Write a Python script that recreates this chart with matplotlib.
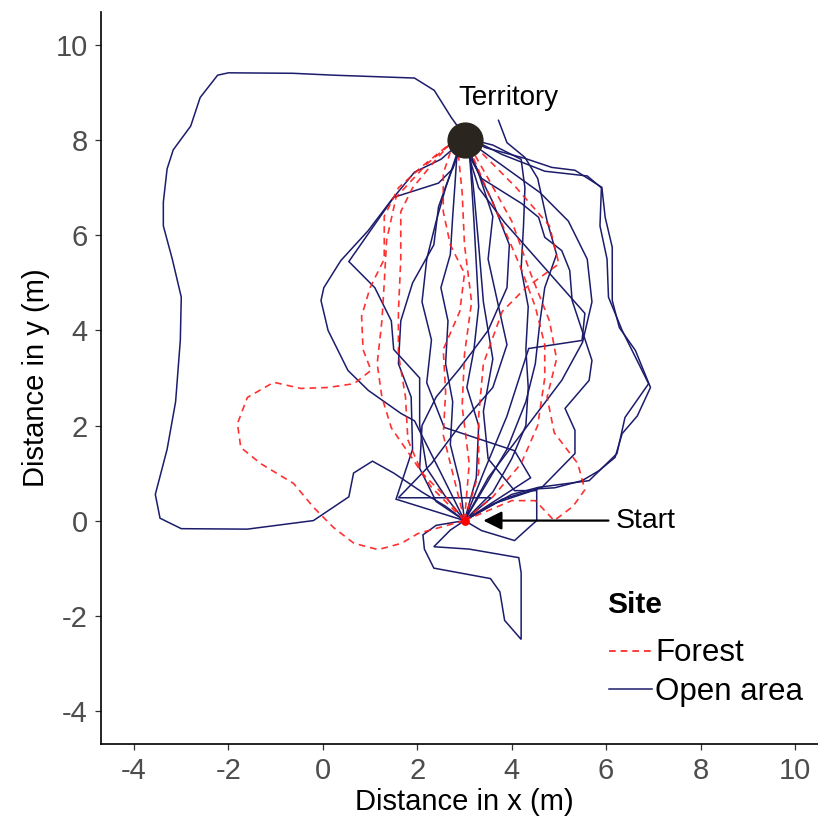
import matplotlib
matplotlib.use("Agg")
import matplotlib.pyplot as plt
from matplotlib.lines import Line2D

plt.rcParams['font.family'] = ['Liberation Sans', 'DejaVu Sans']

# ---------------- data: trajectories (metres) ----------------
# Open area tracks
open1_x = [3.0, 2.6, 2.1, 1.5, 1.05, 0.65, 0.55, -0.2, -1.6, -3.0, -3.45, -3.55, -3.3, -3.12, -3.02, -3.0, -3.19, -3.38, -3.38, -3.3, -3.17, -2.8, -2.6, -2.23, -2.0, -0.64, 0.23, 1.94, 2.36, 2.72, 2.85]
open1_y = [0.0, 0.3, 0.6, 1.0, 1.25, 1.0, 0.5, 0.0, -0.18, -0.17, 0.05, 0.55, 1.5, 2.5, 3.8, 4.7, 5.5, 6.2, 6.7, 7.4, 7.8, 8.3, 8.9, 9.37, 9.42, 9.41, 9.37, 9.31, 9.05, 8.48, 8.3]
open2_x = [3.0, 3.6, 4.57, 4.91, 5.49, 5.85, 6.19, 6.34, 6.66, 6.94, 6.62, 6.28, 6.13, 6.13, 5.98, 5.91, 5.34, 4.85, 4.28, 3.43, 3.2]
open2_y = [0.0, 0.35, 0.67, 0.69, 0.84, 1.05, 1.33, 1.83, 2.2, 2.8, 3.58, 4.06, 4.63, 5.75, 6.38, 7.01, 7.37, 7.43, 7.62, 7.85, 8.0]
open3_x = [3.0, 4.0, 4.57, 5.64, 6.23, 6.4, 6.9, 6.34, 6.05, 6.02, 5.87, 5.9, 5.6, 4.7, 3.8, 3.2]
open3_y = [0.0, 0.55, 0.7, 0.84, 1.41, 2.17, 2.88, 4.0, 4.7, 5.5, 6.2, 7.0, 7.25, 7.35, 7.7, 8.0]
open4_x = [3.0, 2.4, 2.12, 2.15, 2.35, 3.55, 3.75, 3.85, 4.2, 4.2, 4.15, 3.1, 2.35, 2.7, 3.0]
open4_y = [0.0, -0.1, -0.3, -0.6, -1.0, -1.22, -1.5, -2.1, -2.5, -1.1, -0.78, -0.6, -0.55, -0.2, 0.0]
open5_x = [3.0, 2.5, 1.94, 1.66, 0.96, 0.53, 0.11, -0.04, 0.02, 0.38, 0.96, 1.45, 1.94, 2.5, 2.85]
open5_y = [0.0, 1.0, 2.1, 2.25, 2.74, 3.16, 4.0, 4.63, 4.9, 5.47, 6.1, 6.74, 7.33, 7.6, 7.9]
open6_x = [3.0, 2.6, 2.2, 2.05, 2.05, 1.5, 1.45, 1.1, 0.55, 1.5, 2.45, 2.75, 2.9]
open6_y = [0.0, 0.5, 1.1, 2.0, 3.0, 3.6, 4.2, 4.9, 5.45, 6.8, 7.1, 7.4, 7.8]
open7_x = [3.0, 2.9, 2.7, 2.75, 2.6, 2.65, 2.5, 2.7, 2.75, 2.8, 2.85]
open7_y = [0.0, 0.8, 1.6, 2.5, 3.3, 4.2, 4.9, 5.6, 6.4, 7.1, 7.85]
open8_x = [3.0, 3.25, 3.3, 3.05, 3.2, 3.3, 3.25, 3.2, 3.15, 3.1]
open8_y = [0.0, 0.9, 2.0, 2.8, 3.6, 4.5, 5.4, 6.3, 7.1, 7.8]
open9_x = [3.0, 3.6, 4.0, 4.3, 4.35, 4.3, 4.35, 4.2, 4.25, 4.28, 4.2, 3.6, 3.2]
open9_y = [0.0, 0.6, 1.3, 2.0, 2.8, 3.6, 4.5, 5.3, 6.2, 7.0, 7.6, 7.9, 8.0]
open10_x = [3.0, 3.8, 4.64, 5.34, 5.34, 5.13, 5.64, 5.7, 5.49, 5.28, 5.23, 5.06, 4.7, 4.57, 4.21, 3.36, 3.05]
open10_y = [0.0, 0.45, 0.7, 1.41, 1.9, 2.36, 2.95, 3.37, 4.0, 4.63, 5.26, 5.68, 5.96, 6.38, 6.67, 7.2, 7.85]
open11_x = [3.0, 3.4, 3.9, 4.36, 5.49, 5.55, 3.85, 3.3, 3.05]
open11_y = [0.0, 1.0, 2.2, 3.62, 3.79, 4.36, 6.27, 7.0, 7.8]
open12_x = [3.0, 3.3, 3.9, 4.3, 4.5, 4.6, 4.7, 4.95, 4.75, 4.55, 4.28, 3.9, 3.72]
open12_y = [0.0, 0.5, 1.5, 2.5, 3.3, 4.2, 4.9, 5.6, 6.3, 7.2, 7.64, 7.95, 8.42]
open13_x = [3.0, 1.55, 1.9, 1.87, 1.6, 1.65, 1.9, 2.35, 2.45, 2.7, 2.9]
open13_y = [0.0, 0.45, 1.5, 2.6, 3.3, 4.2, 5.0, 5.8, 6.6, 7.3, 7.9]
open14_x = [3.0, 3.5, 5.06, 5.5, 5.7, 5.6, 5.2, 4.6, 3.9, 3.2]
open14_y = [0.0, 0.9, 2.95, 3.75, 4.6, 5.5, 6.3, 6.9, 7.4, 7.9]
open15_x = [3.0, 2.4, 2.05, 2.1, 2.4, 2.9, 3.5, 3.9, 3.95, 3.6, 3.25, 3.0]
open15_y = [0.0, 0.4, 1.1, 2.0, 2.6, 3.2, 4.0, 4.9, 5.8, 6.7, 7.4, 7.85]
open16_x = [3.0, 4.4, 4.06, 2.57, 2.2, 2.3, 2.1, 2.2, 2.4, 2.6, 2.9]
open16_y = [0.0, 0.9, 1.47, 1.96, 2.9, 3.8, 4.6, 5.5, 6.3, 7.0, 7.85]
open17_x = [3.0, 3.57, 1.6, 2.3, 2.9, 3.6, 3.9, 3.7, 3.5, 3.6, 3.3, 3.05]
open17_y = [0.0, 0.48, 0.48, 1.2, 2.0, 2.8, 3.7, 4.6, 5.5, 6.4, 7.3, 7.9]
open18_x = [3.0, 3.36, 4.06, 4.36, 4.53, 4.53, 4.06, 3.5, 3.4, 3.6, 3.4, 3.3, 3.2, 3.1]
open18_y = [0.0, -0.21, -0.42, -0.15, 0.0, 0.63, 0.63, 1.3, 2.3, 3.4, 4.6, 5.8, 6.9, 7.8]

# Forest tracks
forest1_x = [3.0, 2.02, 1.66, 1.17, 0.66, 0.23, -0.19, -0.62, -1.32, -1.74, -1.81, -1.6, -1.04, -0.47, 0.11, 0.66, 1.02, 0.85, 0.82, 1.0, 1.3, 1.3, 1.6, 2.1, 2.6, 2.85]
forest1_y = [0.0, -0.27, -0.48, -0.61, -0.48, -0.15, 0.27, 0.78, 1.2, 1.54, 2.04, 2.59, 2.91, 2.78, 2.8, 2.88, 3.16, 3.6, 4.3, 4.9, 5.5, 6.4, 7.0, 7.45, 7.85, 8.05]
forest2_x = [3.0, 4.0, 4.5, 4.9, 5.3, 5.55, 5.4, 4.9, 4.75, 4.95, 4.8, 4.4, 4.0, 3.5, 3.1]
forest2_y = [0.0, 0.42, 0.42, 0.0, 0.3, 0.65, 1.2, 1.85, 2.6, 3.4, 4.2, 5.2, 6.3, 7.2, 7.9]
forest3_x = [3.0, 2.6, 2.1, 1.8, 1.75, 1.6, 1.6, 1.65, 1.65, 1.9, 2.4, 2.85]
forest3_y = [0.0, 0.5, 1.0, 1.7, 2.6, 3.5, 4.4, 5.5, 6.5, 7.0, 7.6, 8.1]
forest4_x = [3.0, 2.8, 2.55, 2.6, 2.55, 2.9, 3.0, 2.7, 2.55, 2.55, 2.75]
forest4_y = [0.0, 0.8, 1.8, 2.7, 3.6, 4.4, 5.2, 5.8, 6.5, 7.3, 7.9]
forest5_x = [3.0, 3.6, 4.2, 4.55, 4.7, 4.7, 4.5, 4.2, 3.9, 3.5, 3.2, 3.0]
forest5_y = [0.0, 0.5, 1.2, 2.0, 3.0, 3.7, 4.5, 5.3, 6.0, 6.9, 7.6, 7.9]
forest6_x = [3.0, 2.3, 1.9, 1.45, 1.25, 1.15, 1.25, 1.3, 1.35, 1.55, 2.2, 2.8]
forest6_y = [0.0, 0.7, 1.3, 1.95, 2.6, 3.3, 4.2, 5.0, 5.9, 6.8, 7.5, 8.0]
forest7_x = [3.0, 3.3, 3.3, 3.4, 3.8, 4.3, 5.0, 4.8, 4.1, 3.3]
forest7_y = [0.0, 1.0, 2.2, 3.3, 4.4, 4.9, 5.4, 6.2, 7.0, 7.8]
forest8_x = [3.0, 3.1, 2.95, 3.0, 3.15, 3.0, 2.95, 2.85]
forest8_y = [0.0, 1.2, 2.4, 3.5, 4.6, 5.8, 6.9, 7.9]

open_tracks = [(open1_x, open1_y), (open2_x, open2_y), (open3_x, open3_y), (open4_x, open4_y),
               (open5_x, open5_y), (open6_x, open6_y), (open7_x, open7_y), (open8_x, open8_y),
               (open9_x, open9_y), (open10_x, open10_y), (open11_x, open11_y), (open12_x, open12_y),
               (open13_x, open13_y), (open14_x, open14_y), (open15_x, open15_y), (open16_x, open16_y),
               (open17_x, open17_y), (open18_x, open18_y)]
forest_tracks = [(forest1_x, forest1_y), (forest2_x, forest2_y), (forest3_x, forest3_y),
                 (forest4_x, forest4_y), (forest5_x, forest5_y), (forest6_x, forest6_y),
                 (forest7_x, forest7_y), (forest8_x, forest8_y)]

territory_xy = (3.0, 8.0)
start_xy = (3.0, 0.0)
arrow_tail_x = 6.05
arrow_tip_x = 3.4

site_title = "Site"
site_labels = ["Forest", "Open area"]
x_ticks = [-4, -2, 0, 2, 4, 6, 8, 10]
y_ticks = [-4, -2, 0, 2, 4, 6, 8, 10]

# ---------------- styles ----------------
BLUE = "#1c1c6c"
RED = "#ff1a1a"
GREY = "#4d4d4d"

fig = plt.figure(figsize=(8.18, 8.31), dpi=100)
ax = fig.add_axes([0.1235, 0.1047, 0.8887, 0.8809])

for xs, ys in open_tracks:
    ax.plot(xs, ys, color=BLUE, lw=1.1, solid_joinstyle='miter', zorder=2)
for xs, ys in forest_tracks:
    ax.plot(xs, ys, color=RED, lw=1.2, linestyle=(0, (4, 3)), alpha=0.9, zorder=3)

ax.scatter([start_xy[0]], [start_xy[1]], s=40, color='red', zorder=4, linewidths=0)
ax.scatter([territory_xy[0]], [territory_xy[1]], s=680, color="#2b251f", zorder=5, linewidths=0)

ax.text(territory_xy[0] - 0.12, 8.88, "Territory", fontsize=20, color='black', ha='left', va='center')
ax.annotate("", xy=(arrow_tip_x, 0.0), xytext=(arrow_tail_x, 0.0),
            arrowprops=dict(arrowstyle='-|>', color='black', lw=1.6, mutation_scale=28,
                            shrinkA=0, shrinkB=0), zorder=6)
ax.text(arrow_tail_x + 0.15, 0.0, "Start", fontsize=20.5, color='black', ha='left', va='center')

ax.set_xlim(-4.7, 10.7)
ax.set_ylim(-4.7, 10.7)
ax.set_xticks(x_ticks)
ax.set_yticks(y_ticks)
ax.set_xticklabels([str(t) for t in x_ticks])
ax.set_yticklabels([str(t) for t in y_ticks])
ax.tick_params(axis='both', direction='out', length=4.5, width=0.9, color='#333333',
               labelsize=21, labelcolor=GREY, pad=5)
for s in ['top', 'right']:
    ax.spines[s].set_visible(False)
for s in ['left', 'bottom']:
    ax.spines[s].set_linewidth(1.2)
    ax.spines[s].set_color('black')

ax.set_xlabel("Distance in x (m)", fontsize=21, color='black', labelpad=2)
ax.set_ylabel("Distance in y (m)", fontsize=21, color='black', labelpad=4)

# legend (title placed as its own text so the gap matches)
ax.text(6.02, -1.77, site_title, fontsize=21.5, fontweight='bold', color='black',
        ha='left', va='center')
handles = [Line2D([], [], color=RED, lw=1.2, linestyle=(0, (4, 3))),
           Line2D([], [], color=BLUE, lw=1.1)]
leg = ax.legend(handles, site_labels, loc='upper left', bbox_transform=ax.transData,
                bbox_to_anchor=(6.07, -2.48), frameon=False, fontsize=22.5,
                handlelength=1.35, handletextpad=0.12, labelspacing=0.26,
                borderpad=0, borderaxespad=0)

fig.savefig("out.png", dpi=100)
